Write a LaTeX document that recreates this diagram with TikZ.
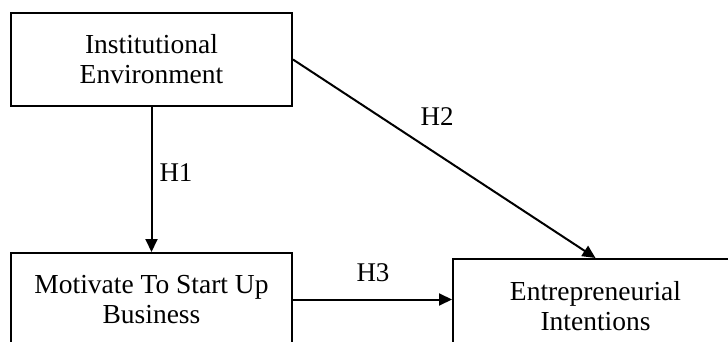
\documentclass[tikz,border=0pt]{standalone}
\usepackage{fontspec}
\setmainfont{Liberation Serif}
\usetikzlibrary{arrows.meta,positioning}

\tikzset{
  varbox/.style={draw,line width=2pt,minimum width=281pt,minimum height=93pt,
    align=center,inner sep=0pt,font=\fontsize{27.5}{30}\selectfont},
  hlabel/.style={inner sep=0pt,font=\fontsize{27}{30}\selectfont},
  hyparrow/.style={line width=2pt,-{Triangle[length=13pt,width=12pt]}}
}

\begin{document}
\begin{tikzpicture}[x=1pt,y=1pt]
\useasboundingbox (0,0) rectangle (728,-342);
\node[varbox] (inst) at (151.5,-59.5) {Institutional\\Environment};
\node[varbox] (motiv) at (151.5,-299.5) {Motivate To Start Up\\Business};
\node[varbox,minimum width=285pt,minimum height=94pt] (entrep) at (595.5,-306) {Entrepreneurial\\Intentions};
\draw[hyparrow] (inst.south)--(motiv.north);
\draw[hyparrow] (inst.east)--(entrep.north);
\draw[hyparrow] (motiv.east)--(motiv.east -| entrep.west);
\node[hlabel] (h1) at (176,-173) {H1};
\node[hlabel] (h2) at (437,-117) {H2};
\node[hlabel] (h3) at (373,-273) {H3};
\end{tikzpicture}
\end{document}
